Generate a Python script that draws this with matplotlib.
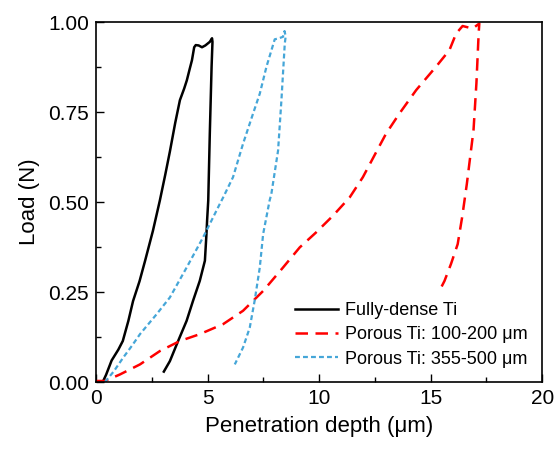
import matplotlib
matplotlib.use('Agg')
import matplotlib.pyplot as plt
from matplotlib.ticker import MultipleLocator

plt.rcParams['font.family'] = ['Liberation Sans', 'DejaVu Sans']

# Load-depth curves (loading then unloading), depth in um, load in N
dense_x = [0.30, 0.45, 0.70, 1.00, 1.20, 1.45, 1.66, 1.95, 2.20, 2.55, 2.86, 3.10, 3.31,
           3.55, 3.76, 3.95, 4.07, 4.20, 4.30, 4.40, 4.47, 4.60, 4.75, 4.90, 5.00, 5.10,
           5.20, 5.22, 5.18, 5.10, 5.03, 4.98, 4.95, 4.88, 4.65, 4.35, 4.06, 3.68, 3.31, 3.04]
dense_y = [0.000, 0.020, 0.060, 0.090, 0.114, 0.170, 0.225, 0.280, 0.337, 0.420, 0.504, 0.575,
           0.640, 0.720, 0.783, 0.815, 0.838, 0.870, 0.894, 0.930, 0.936, 0.935, 0.930, 0.935,
           0.940, 0.945, 0.955, 0.945, 0.876, 0.690, 0.504, 0.450, 0.411, 0.337, 0.281, 0.226,
           0.170, 0.114, 0.058, 0.029]

p100_x = [0.00, 0.40, 1.07, 1.97, 2.86, 3.76, 4.65, 5.70, 6.59, 7.49, 8.38, 9.13, 9.87,
          10.62, 11.37, 11.96, 12.56, 13.00, 13.60, 14.35, 15.24, 15.84, 16.14, 16.43,
          16.88, 17.18, 17.15, 17.05, 16.92, 16.80, 16.62, 16.41, 16.21, 15.91, 15.62, 15.39]
p100_y = [0.003, 0.003, 0.021, 0.049, 0.086, 0.114, 0.133, 0.161, 0.198, 0.253, 0.318, 0.374,
          0.416, 0.462, 0.513, 0.569, 0.639, 0.690, 0.746, 0.811, 0.876, 0.922, 0.968, 0.989,
          0.982, 0.996, 0.968, 0.830, 0.700, 0.640, 0.550, 0.458, 0.383, 0.328, 0.281, 0.253]

p355_x = [0.40, 0.80, 1.22, 1.60, 1.97, 2.71, 3.31, 4.06, 4.80, 5.55, 5.70, 6.14, 6.59,
          7.04, 7.34, 7.64, 8.01, 8.20, 8.38, 8.45, 8.50, 8.46, 8.31, 8.16, 7.86, 7.78,
          7.49, 7.34, 7.11, 6.89, 6.59, 6.22]
p355_y = [0.000, 0.030, 0.068, 0.100, 0.133, 0.188, 0.235, 0.318, 0.402, 0.495, 0.513, 0.569,
          0.662, 0.746, 0.801, 0.876, 0.952, 0.955, 0.959, 0.975, 0.960, 0.940, 0.783, 0.643,
          0.523, 0.504, 0.411, 0.318, 0.226, 0.151, 0.096, 0.049]

labels = ['Fully-dense Ti', 'Porous Ti: 100-200 \u03bcm', 'Porous Ti: 355-500 \u03bcm']

fig = plt.figure(figsize=(5.55, 4.5), dpi=100)
ax = fig.add_axes([0.173, 0.151, 0.804, 0.800])

ax.plot(dense_x, dense_y, color='black', lw=1.8, label=labels[0])
ax.plot(p100_x, p100_y, color='#ff0000', lw=1.8, linestyle=(0, (5, 3)), label=labels[1])
ax.plot(p355_x, p355_y, color='#45a6d8', lw=1.6, linestyle=(0, (2.2, 1.4)), label=labels[2])

ax.set_xlim(0, 20)
ax.set_ylim(0, 1)
ax.xaxis.set_major_locator(MultipleLocator(5))
ax.xaxis.set_minor_locator(MultipleLocator(2.5))
ax.yaxis.set_major_locator(MultipleLocator(0.25))
ax.yaxis.set_minor_locator(MultipleLocator(0.125))
ax.yaxis.set_major_formatter(plt.FormatStrFormatter('%.2f'))
ax.tick_params(which='both', direction='in', top=False, right=False, labelsize=15, pad=5)
ax.tick_params(which='major', length=6, width=1)
ax.tick_params(which='minor', length=3.5, width=1)
for s in ax.spines.values():
    s.set_linewidth(1.2)

ax.set_xlabel('Penetration depth (\u03bcm)', fontsize=16, labelpad=6)
ax.set_ylabel('Load (N)', fontsize=16, labelpad=6)

ax.legend(loc='lower right', frameon=False, fontsize=13, handlelength=2.4,
          handletextpad=0.4, labelspacing=0.4, borderaxespad=0.4)

fig.savefig('out.png', dpi=100)
